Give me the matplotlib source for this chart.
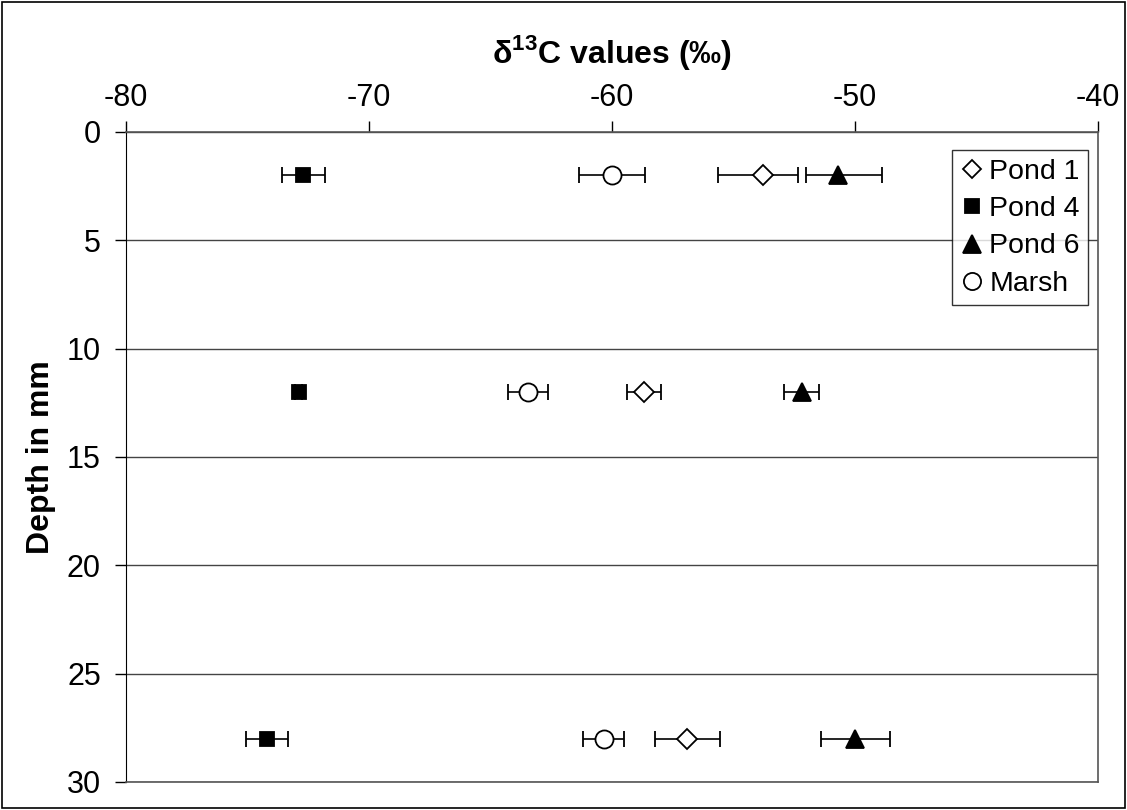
import matplotlib
matplotlib.use("Agg")
import matplotlib.pyplot as plt
from matplotlib.patches import Rectangle
from matplotlib.lines import Line2D

plt.rcParams['font.family'] = ['Liberation Sans', 'DejaVu Sans']
plt.rcParams['mathtext.fontset'] = 'custom'
plt.rcParams['mathtext.bf'] = 'Liberation Sans:bold'
plt.rcParams['mathtext.rm'] = 'Liberation Sans'
plt.rcParams['axes.unicode_minus'] = False

# --- data (delta 13C, per mil) ---
depths = [2, 12, 28]

pond1 = [-53.8, -58.7, -56.9]
pond1_err_lo = [1.85, 0.7, 1.35]
pond1_err_hi = [1.45, 0.7, 1.35]

pond4 = [-72.7, -72.9, -74.2]
pond4_err = [0.9, 0.15, 0.85]

pond6 = [-50.7, -52.2, -50.0]
pond6_err_lo = [1.3, 0.72, 1.4]
pond6_err_hi = [1.8, 0.72, 1.45]

marsh = [-60.0, -63.45, -60.35]
marsh_err = [1.37, 0.82, 0.86]

series = [
    ("Pond 1", pond1, [pond1_err_lo, pond1_err_hi], 'D', 'white', 10),
    ("Pond 4", pond4, pond4_err, 's', 'black', 10),
    ("Pond 6", pond6, [pond6_err_lo, pond6_err_hi], '^', 'black', 13),
    ("Marsh", marsh, marsh_err, 'o', 'white', 13),
]

fig = plt.figure(figsize=(11.27, 8.10), dpi=100)
ax = fig.add_axes([0.1118, 0.0346, 0.8625, 0.8025])

handles = []
for name, vals, err, mk, fc, ms in series:
    ax.errorbar(vals, depths, xerr=err, fmt=mk, color='black', mfc=fc, mec='black',
                ms=ms, mew=1.3, ecolor='black', elinewidth=1.2, capsize=5.5,
                capthick=1.2, zorder=3)
    handles.append(Line2D([], [], ls='none', marker=mk, mfc=fc, mec='black',
                          mew=1.3, ms=ms * 0.95, label=name))

ax.set_xlim(-80, -40)
ax.set_ylim(30, 0)
ax.set_xticks([-80, -70, -60, -50, -40])
ax.set_yticks([0, 5, 10, 15, 20, 25, 30])
ax.xaxis.tick_top()
ax.xaxis.set_label_position('top')
ax.tick_params(axis='both', labelsize=22, direction='out', length=8, width=1, color='black')
ax.tick_params(axis='x', pad=6)
ax.tick_params(axis='y', pad=10)

ax.yaxis.grid(True, color='#444444', linewidth=1)
ax.set_axisbelow(True)
for side in ['top', 'bottom', 'right']:
    ax.spines[side].set_color('#555555')
    ax.spines[side].set_linewidth(1.2)
ax.spines['left'].set_color('black')

ax.set_xlabel(r'δ$^{\mathbf{13}}$C values (‰)', fontsize=23, fontweight='bold', labelpad=14)
ax.set_ylabel('Depth in mm', fontsize=23, fontweight='bold', labelpad=8)

leg = ax.legend(handles=handles, loc='upper right', bbox_to_anchor=(0.99, 0.972),
                fontsize=20.5, frameon=True, fancybox=False, edgecolor='black',
                handletextpad=0.2, handlelength=0.8, borderpad=0.3,
                labelspacing=0.4, borderaxespad=0)
leg.get_frame().set_linewidth(1)

fig.patches.append(Rectangle((0.002, 0.002), 0.996, 0.996, transform=fig.transFigure,
                             fill=False, edgecolor='black', linewidth=1.2))

fig.savefig('out.png', dpi=100)
